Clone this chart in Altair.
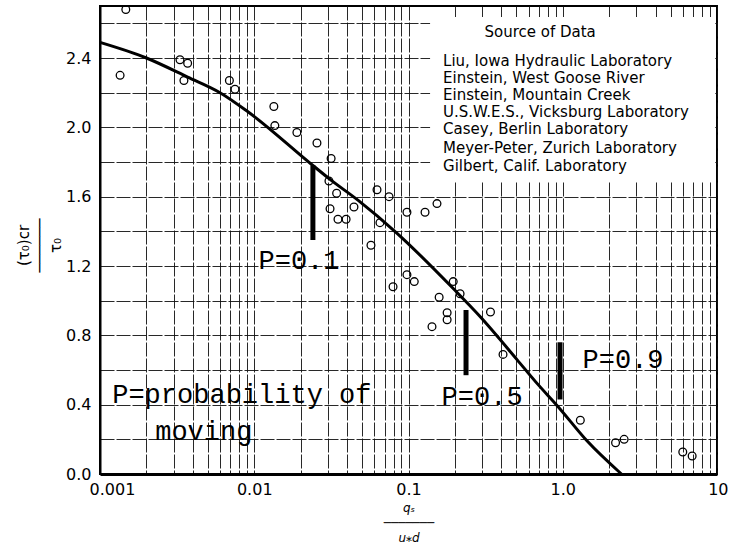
import altair as alt
import pandas as pd

# Mean curve of (tau0)cr / tau0 against the transport parameter qs / (u* d)
curve_x = [0.001, 0.002, 0.0037, 0.006, 0.0091, 0.024, 0.031, 0.047, 0.084,
           0.195, 0.29, 0.505, 0.67, 0.93, 1.44, 2.4]
curve_y = [2.49, 2.40, 2.29, 2.20, 2.09, 1.78, 1.70, 1.58, 1.39,
           1.07, 0.91, 0.66, 0.53, 0.39, 0.19, 0.0]

# Observed points from the laboratory and field sources
obs_x = [0.00147, 0.00135, 0.0033, 0.0037, 0.0035, 0.0069, 0.0075, 0.0134, 0.0136,
         0.0189, 0.0255, 0.0315, 0.0305, 0.0342, 0.0625, 0.0748, 0.031, 0.0443,
         0.0349, 0.0394, 0.0571, 0.0653, 0.0977, 0.128, 0.153, 0.0977, 0.109,
         0.0794, 0.195, 0.216, 0.158, 0.178, 0.178, 0.142, 0.34, 0.41,
         1.30, 2.2, 2.5, 6.0, 6.9]
obs_y = [2.68, 2.30, 2.39, 2.37, 2.27, 2.27, 2.22, 2.12, 2.01,
         1.97, 1.91, 1.82, 1.69, 1.62, 1.64, 1.60, 1.53, 1.54,
         1.47, 1.47, 1.32, 1.45, 1.51, 1.51, 1.56, 1.15, 1.11,
         1.08, 1.11, 1.04, 1.02, 0.93, 0.89, 0.85, 0.935, 0.69,
         0.31, 0.18, 0.20, 0.127, 0.104]

# Probability markers (vertical bars) and their labels
prob_labels = ["P=0.1", "P=0.5", "P=0.9"]
prob_x = [0.024, 0.236, 0.96]
prob_top = [1.78, 0.946, 0.76]
prob_bottom = [1.35, 0.57, 0.43]
prob_label_x = [0.0195, 0.300, 2.46]
prob_label_y = [1.18, 0.40, 0.61]

note_lines = ["P=probability of", "moving"]
note_x = [0.0012, 0.00228]
note_y = [0.41, 0.196]

# Source list box
legend_title = "Source of Data"
sources = [
    "Liu, Iowa Hydraulic Laboratory",
    "Einstein, West Goose River",
    "Einstein, Mountain Creek",
    "U.S.W.E.S., Vicksburg Laboratory",
    "Casey, Berlin Laboratory",
    "Meyer-Peter, Zurich Laboratory",
    "Gilbert, Calif. Laboratory",
]
source_y = [2.383, 2.285, 2.187, 2.089, 1.991, 1.881, 1.777]
source_x = 0.1675
legend_title_pos = (0.713, 2.55)
legend_box = dict(x=0.138, x2=9.75, y=1.69, y2=2.637)

# Axis ticks / grid
x_grid = [round(m * 10 ** e, 6) for e in range(-3, 1) for m in range(1, 10)] + [10]
x_tick_labels = {0.001: "0.001", 0.01: "0.01", 0.1: "0.1", 1: "1.0", 10: "10"}
y_grid = [round(0.2 * i, 1) for i in range(0, 14)]

label_expr_x = " : ".join(
    f"datum.value == {k} ? '{v}'" for k, v in x_tick_labels.items()
) + " : ''"

X_SCALE = alt.Scale(type="log", domain=[0.001, 10], nice=False)
Y_SCALE = alt.Scale(domain=[0, 2.7], nice=False)

GRID = dict(gridColor="#111111", gridWidth=1, gridDash=[14, 2], gridOpacity=0.9)

x_axis = alt.Axis(
    values=x_grid, labelExpr=label_expr_x, grid=True, ticks=False,
    labelFlush=True, labelFlushOffset=11, labelOverlap=False, labelPadding=7,
    labelFont="DejaVu Sans", labelFontSize=16, labelColor="black",
    domainColor="black", domainWidth=3,
    title=["qₛ", "───────", "u⁎d"], titleFont="DejaVu Sans", titleFontSize=12,
    titleFontStyle="italic", titleFontWeight="normal", titleLineHeight=15,
    titlePadding=5, titleColor="black",
    **GRID,
)
y_axis = alt.Axis(
    values=y_grid,
    labelExpr="round(datum.value * 10) % 4 == 0 ? format(datum.value, '.1f') : ''",
    grid=True, ticks=False, labelFlush=False, labelOverlap=False, labelPadding=9,
    labelFont="DejaVu Sans", labelFontSize=16, labelColor="black",
    domainColor="black", domainWidth=2,
    title=["(τ₀)cr", "──────", "τ₀"], titleFont="DejaVu Sans", titleFontSize=15,
    titleFontWeight="normal", titleLineHeight=16, titlePadding=2, titleY=239,
    titleColor="black",
    **GRID,
)

curve_df = pd.DataFrame({"x": curve_x, "y": curve_y})
obs_df = pd.DataFrame({"x": obs_x, "y": obs_y})
bar_df = pd.DataFrame({"x": prob_x, "y": prob_top, "y2": prob_bottom})
prob_df = pd.DataFrame({"x": prob_label_x, "y": prob_label_y, "t": prob_labels})
note_df = pd.DataFrame({"x": note_x, "y": note_y, "t": note_lines})
box_df = pd.DataFrame([legend_box])
src_df = pd.DataFrame({"x": [source_x] * len(sources), "y": source_y, "t": sources})
head_df = pd.DataFrame({"x": [legend_title_pos[0]], "y": [legend_title_pos[1]], "t": [legend_title]})

X = alt.X("x:Q", scale=X_SCALE, axis=x_axis)
Y = alt.Y("y:Q", scale=Y_SCALE, axis=y_axis)

box = alt.Chart(box_df).mark_rect(color="white").encode(
    x=X, x2="x2:Q", y=Y, y2="y2:Q"
)
head = alt.Chart(head_df).mark_text(
    font="DejaVu Sans", fontSize=15, color="black", align="center", baseline="middle"
).encode(x=X, y=Y, text="t:N")
src = alt.Chart(src_df).mark_text(
    font="DejaVu Sans", fontSize=15, color="black", align="left", baseline="middle"
).encode(x=X, y=Y, text="t:N")
curve = alt.Chart(curve_df).mark_line(
    color="black", strokeWidth=3, interpolate="monotone"
).encode(x=X, y=Y)
points = alt.Chart(obs_df).mark_point(
    shape="circle", filled=False, size=60, strokeWidth=1.3, color="black", opacity=1
).encode(x=X, y=Y)
bars = alt.Chart(bar_df).mark_rule(
    color="black", strokeWidth=5, strokeCap="butt"
).encode(x=X, y=Y, y2="y2:Q")
prob_text = alt.Chart(prob_df).mark_text(
    font="Liberation Mono", fontSize=27, color="black", align="center", baseline="alphabetic"
).encode(x=X, y=Y, text="t:N")
note_text = alt.Chart(note_df).mark_text(
    font="Liberation Mono", fontSize=27, color="black", align="left", baseline="alphabetic"
).encode(x=X, y=Y, text="t:N")

chart = alt.layer(
    box, head, src, curve, points, bars, prob_text, note_text
).properties(
    width=617, height=468,
    autosize=alt.AutoSizeParams(type="none"),
    padding={"left": 100, "top": 6, "right": 13, "bottom": 75},
    background="white",
).configure_view(stroke="black", strokeWidth=2)

chart.save("out.html", embed_options={"renderer": "svg", "actions": False})
